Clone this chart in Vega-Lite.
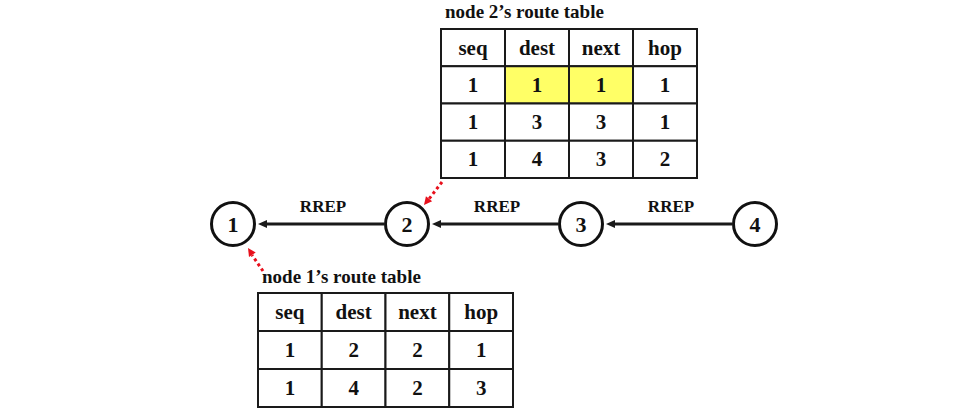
{
  "$schema": "https://vega.github.io/schema/vega-lite/v6.json",
  "width": 971,
  "height": 416,
  "autosize": "none",
  "padding": 0,
  "background": "white",
  "config": {
    "view": {"stroke": null},
    "axis": {"disable": true},
    "legend": {"disable": true},
    "text": {"font": "'Liberation Serif', 'Times New Roman', serif", "fontWeight": "bold", "color": "#111111"}
  },
  "datasets": {
    "cells": [
      {"t": 2, "r": 0, "c": "seq", "v": "seq", "hl": false},
      {"t": 2, "r": 0, "c": "dest", "v": "dest", "hl": false},
      {"t": 2, "r": 0, "c": "next", "v": "next", "hl": false},
      {"t": 2, "r": 0, "c": "hop", "v": "hop", "hl": false},
      {"t": 2, "r": 1, "c": "seq", "v": "1", "hl": false},
      {"t": 2, "r": 1, "c": "dest", "v": "1", "hl": true},
      {"t": 2, "r": 1, "c": "next", "v": "1", "hl": true},
      {"t": 2, "r": 1, "c": "hop", "v": "1", "hl": false},
      {"t": 2, "r": 2, "c": "seq", "v": "1", "hl": false},
      {"t": 2, "r": 2, "c": "dest", "v": "3", "hl": false},
      {"t": 2, "r": 2, "c": "next", "v": "3", "hl": false},
      {"t": 2, "r": 2, "c": "hop", "v": "1", "hl": false},
      {"t": 2, "r": 3, "c": "seq", "v": "1", "hl": false},
      {"t": 2, "r": 3, "c": "dest", "v": "4", "hl": false},
      {"t": 2, "r": 3, "c": "next", "v": "3", "hl": false},
      {"t": 2, "r": 3, "c": "hop", "v": "2", "hl": false},
      {"t": 1, "r": 0, "c": "seq", "v": "seq", "hl": false},
      {"t": 1, "r": 0, "c": "dest", "v": "dest", "hl": false},
      {"t": 1, "r": 0, "c": "next", "v": "next", "hl": false},
      {"t": 1, "r": 0, "c": "hop", "v": "hop", "hl": false},
      {"t": 1, "r": 1, "c": "seq", "v": "1", "hl": false},
      {"t": 1, "r": 1, "c": "dest", "v": "2", "hl": false},
      {"t": 1, "r": 1, "c": "next", "v": "2", "hl": false},
      {"t": 1, "r": 1, "c": "hop", "v": "1", "hl": false},
      {"t": 1, "r": 2, "c": "seq", "v": "1", "hl": false},
      {"t": 1, "r": 2, "c": "dest", "v": "4", "hl": false},
      {"t": 1, "r": 2, "c": "next", "v": "2", "hl": false},
      {"t": 1, "r": 2, "c": "hop", "v": "3", "hl": false}
    ],
    "tables": [
      {"t": 2, "title": "node 2’s route table"},
      {"t": 1, "title": "node 1’s route table"}
    ],
    "nodes": [
      {"node": 1}, {"node": 2}, {"node": 3}, {"node": 4}
    ],
    "edges": [
      {"node": 2, "to": 1, "label": "RREP"},
      {"node": 3, "to": 2, "label": "RREP"},
      {"node": 4, "to": 3, "label": "RREP"}
    ],
    "pointers": [
      {"node": 1, "table": 1},
      {"node": 2, "table": 2}
    ]
  },
  "resolve": {"scale": {"x": "independent", "y": "independent"}},
  "layer": [
    {
      "transform": [{"filter": "datum.t == 2"}],
      "data": {"name": "cells"},
      "encoding": {
        "x": {"field": "c", "type": "ordinal", "scale": {"domain": ["seq", "dest", "next", "hop"], "range": [441, 697], "paddingInner": 0, "paddingOuter": 0}},
        "y": {"field": "r", "type": "ordinal", "scale": {"domain": [0, 1, 2, 3], "range": [29, 178], "paddingInner": 0, "paddingOuter": 0}}
      },
      "layer": [
        {
          "mark": {"type": "rect", "stroke": "#1a1a1a", "strokeWidth": 2},
          "encoding": {"fill": {"condition": {"test": "datum.hl", "value": "#ffff66"}, "value": "#ffffff"}}
        },
        {
          "mark": {"type": "text", "font": "Liberation Serif", "fontWeight": "bold", "fontSize": 21, "dy": 1},
          "encoding": {"text": {"field": "v"}}
        },
        {
          "data": {"name": "tables"},
          "transform": [{"filter": "datum.t == 2"}],
          "mark": {"type": "text", "font": "Liberation Serif", "fontWeight": "bold", "fontSize": 19, "align": "left", "baseline": "alphabetic", "dx": 4, "dy": -11},
          "encoding": {
            "x": {"datum": "seq", "type": "ordinal", "bandPosition": 0},
            "y": {"datum": 0, "type": "ordinal", "bandPosition": 0},
            "text": {"field": "title"}
          }
        }
      ]
    },
    {
      "transform": [{"filter": "datum.t == 1"}],
      "data": {"name": "cells"},
      "encoding": {
        "x": {"field": "c", "type": "ordinal", "scale": {"domain": ["seq", "dest", "next", "hop"], "range": [258, 513], "paddingInner": 0, "paddingOuter": 0}},
        "y": {"field": "r", "type": "ordinal", "scale": {"domain": [0, 1, 2], "range": [293, 407], "paddingInner": 0, "paddingOuter": 0}}
      },
      "layer": [
        {
          "mark": {"type": "rect", "stroke": "#1a1a1a", "strokeWidth": 2},
          "encoding": {"fill": {"condition": {"test": "datum.hl", "value": "#ffff66"}, "value": "#ffffff"}}
        },
        {
          "mark": {"type": "text", "font": "Liberation Serif", "fontWeight": "bold", "fontSize": 21, "dy": 1},
          "encoding": {"text": {"field": "v"}}
        },
        {
          "data": {"name": "tables"},
          "transform": [{"filter": "datum.t == 1"}],
          "mark": {"type": "text", "font": "Liberation Serif", "fontWeight": "bold", "fontSize": 19, "align": "left", "baseline": "alphabetic", "dx": 4, "dy": -10},
          "encoding": {
            "x": {"datum": "seq", "type": "ordinal", "bandPosition": 0},
            "y": {"datum": 0, "type": "ordinal", "bandPosition": 0},
            "text": {"field": "title"}
          }
        }
      ]
    },
    {
      "encoding": {
        "x": {"field": "node", "type": "quantitative", "scale": {"domain": [1, 4], "range": [233, 755]}},
        "y": {"datum": 0, "type": "quantitative", "scale": {"domain": [0, 1], "range": [224, 0]}}
      },
      "layer": [
        {
          "data": {"name": "edges"},
          "mark": {"type": "rule", "color": "#1a1a1a", "strokeWidth": 3, "xOffset": -23, "x2Offset": 30},
          "encoding": {"x2": {"field": "to"}}
        },
        {
          "data": {"name": "edges"},
          "mark": {"type": "point", "shape": "M0,0L1,-0.45L1,0.45Z", "filled": true, "color": "#1a1a1a", "opacity": 1, "size": 324, "xOffset": 25},
          "encoding": {"x": {"field": "to", "type": "quantitative"}}
        },
        {
          "data": {"name": "edges"},
          "mark": {"type": "text", "font": "Liberation Serif", "fontWeight": "bold", "fontSize": 17, "baseline": "alphabetic", "dx": -84, "dy": -12},
          "encoding": {"text": {"field": "label"}}
        },
        {
          "data": {"name": "nodes"},
          "mark": {"type": "point", "shape": "circle", "size": 1849, "filled": false, "fill": "#ffffff", "fillOpacity": 1, "stroke": "#111111", "strokeWidth": 3, "opacity": 1}
        },
        {
          "data": {"name": "nodes"},
          "mark": {"type": "text", "font": "Liberation Serif", "fontWeight": "bold", "fontSize": 22, "dy": 1},
          "encoding": {"text": {"field": "node"}}
        },
        {
          "data": {"name": "pointers"},
          "transform": [{"filter": "datum.node == 1"}],
          "mark": {"type": "rule", "color": "#e8101c", "strokeWidth": 3, "strokeDash": [3, 3], "xOffset": 30, "yOffset": 47, "x2Offset": 19, "y2Offset": 31},
          "encoding": {"x2": {"field": "node"}, "y2": {"datum": 0}}
        },
        {
          "data": {"name": "pointers"},
          "transform": [{"filter": "datum.node == 1"}],
          "mark": {"type": "point", "shape": "M0,0L1,-0.5L1,0.5Z", "filled": true, "color": "#e8101c", "opacity": 1, "size": 256, "angle": 57, "xOffset": 15, "yOffset": 24}
        },
        {
          "data": {"name": "pointers"},
          "transform": [{"filter": "datum.node == 2"}],
          "mark": {"type": "rule", "color": "#e8101c", "strokeWidth": 3, "strokeDash": [3, 3], "xOffset": 35, "yOffset": -42, "x2Offset": 22, "y2Offset": -25},
          "encoding": {"x2": {"field": "node"}, "y2": {"datum": 0}}
        },
        {
          "data": {"name": "pointers"},
          "transform": [{"filter": "datum.node == 2"}],
          "mark": {"type": "point", "shape": "M0,0L1,-0.5L1,0.5Z", "filled": true, "color": "#e8101c", "opacity": 1, "size": 256, "angle": 309, "xOffset": 17, "yOffset": -19}
        }
      ]
    }
  ]
}
